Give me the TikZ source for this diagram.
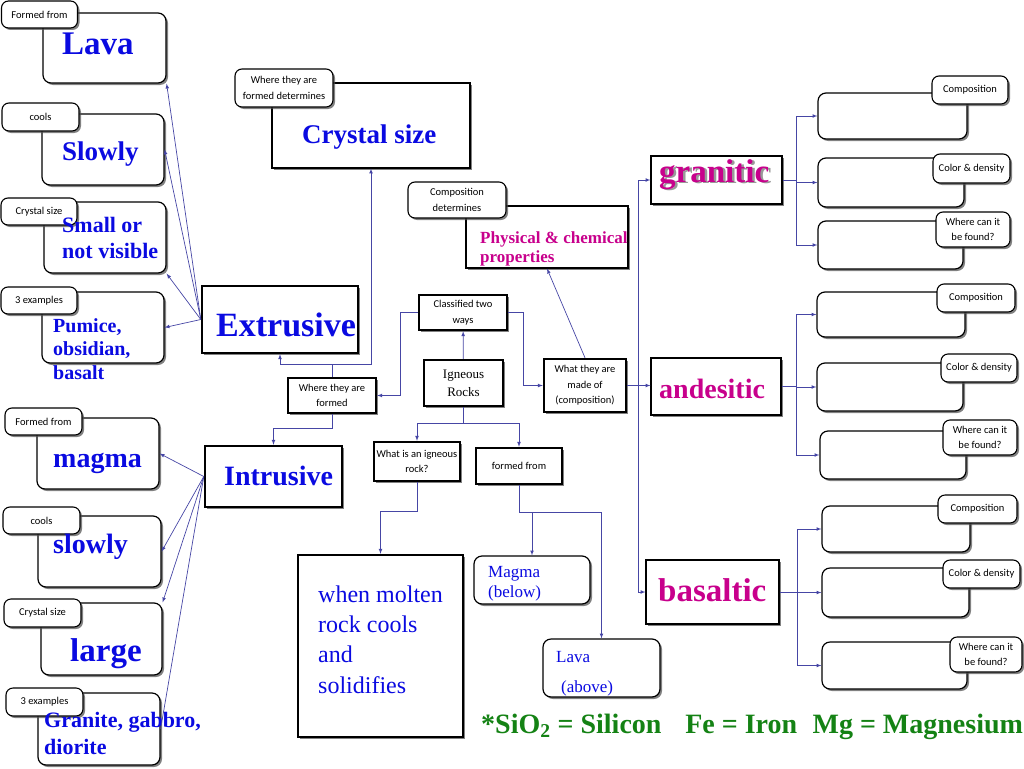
\documentclass[tikz,border=0pt]{standalone}
\usepackage{fontspec}
\setmainfont{Liberation Serif}
\newfontfamily\handfont{Carlito}
\usetikzlibrary{shadows}
\definecolor{conceptblue}{RGB}{10,10,225}
\definecolor{rockpink}{RGB}{200,0,140}
\definecolor{linkblue}{RGB}{70,70,165}
\definecolor{notegreen}{RGB}{20,130,20}

\begin{document}
\begin{tikzpicture}[x=1pt,y=-1pt,>=latex,
  boxshadow/.style={drop shadow={shadow xshift=2pt,shadow yshift=-2pt,opacity=0.7,fill=black!70}},
  hand/.style={font=\handfont\fontsize{10.5}{15.5}\selectfont},
  tagbox/.style={draw,line width=1.1pt,rounded corners=7pt,fill=white,inner sep=0pt,align=center,hand,boxshadow},
  roundbox/.style={draw,line width=1.2pt,rounded corners=8pt,fill=white,inner sep=0pt,boxshadow},
  plainbox/.style={draw,line width=1.1pt,fill=white,inner sep=0pt,boxshadow},
  keybox/.style={draw,line width=2.4pt,fill=white,inner sep=0pt,align=center,hand,boxshadow},
  bigtext/.style={anchor=base west,inner sep=0pt,align=left,text=conceptblue,font=\bfseries\fontsize{#1}{#1}\selectfont},
  rocktext/.style={anchor=base west,inner sep=0pt,text=rockpink,font=\bfseries\fontsize{#1}{#1}\selectfont},
  linkline/.style={draw=linkblue,line width=0.7pt},
  link/.style={linkline,->}]
\useasboundingbox (0,0) rectangle (1024,768);

\node[roundbox,minimum width=123,minimum height=70] (lavabox) at (104.5,48) {};
\node[tagbox,minimum width=76,minimum height=27] (lavatag) at (39.5,14.5) {Formed from};
\node[bigtext=33] (lavatext) at (62,55) {Lava};

\node[roundbox,minimum width=122,minimum height=71] (slowlybox) at (103,149.5) {};
\node[tagbox,minimum width=77,minimum height=28] (coolstag) at (40.5,117) {cools};
\node[bigtext=27] (slowlytext) at (62,160) {Slowly};

\node[roundbox,minimum width=122,minimum height=71] (smallbox) at (105,237.5) {};
\node[tagbox,minimum width=76,minimum height=27] (sizetag) at (39,211.5) {Crystal size};
\node[bigtext=22,font=\bfseries\fontsize{22}{26}\selectfont] (smalltext) at (62,258) {Small or\\not visible};

\node[roundbox,minimum width=122,minimum height=71] (pumicebox) at (103,327.5) {};
\node[tagbox,minimum width=76,minimum height=27] (examplestag) at (39,300.5) {3 examples};
\node[bigtext=20,font=\bfseries\fontsize{20}{23.5}\selectfont] (pumicetext) at (53,379) {Pumice,\\obsidian,\\basalt};

\node[keybox,minimum width=156,minimum height=67] (extrusive) at (280,319.5) {};
\node[bigtext=34] (extrusivetext) at (216,336) {Extrusive};

\node[roundbox,minimum width=122,minimum height=71] (magmabox) at (98,453.5) {};
\node[tagbox,minimum width=77,minimum height=27] (magmatag) at (43.5,421.5) {Formed from};
\node[bigtext=28] (magmatext) at (53,467) {magma};

\node[roundbox,minimum width=123,minimum height=71] (slowlybox2) at (99.5,551.5) {};
\node[tagbox,minimum width=77,minimum height=27] (coolstag2) at (41.5,520.5) {cools};
\node[bigtext=28] (slowlytext2) at (53,553) {slowly};

\node[roundbox,minimum width=121,minimum height=72] (largebox) at (101.5,639) {};
\node[tagbox,minimum width=77,minimum height=28] (sizetag2) at (42.5,613) {Crystal size};
\node[bigtext=33] (largetext) at (70,661) {large};

\node[roundbox,minimum width=122,minimum height=72] (granitebox) at (99,729) {};
\node[tagbox,minimum width=77,minimum height=28] (examplestag2) at (44.5,702) {3 examples};
\node[bigtext=22,font=\bfseries\fontsize{22}{27}\selectfont] (granitetext) at (44,754) {Granite, gabbro,\\diorite};

\node[keybox,minimum width=137,minimum height=61] (intrusive) at (273.5,476.5) {};
\node[bigtext=28] (intrusivetext) at (224,485) {Intrusive};

\node[plainbox,minimum width=198,minimum height=85] (crystalbox) at (371,125.5) {};
\node[tagbox,minimum width=98,minimum height=38] (crystaltag) at (284,88) {Where they are\\formed determines};
\node[bigtext=27] (crystaltext) at (302,143) {Crystal size};

\node[keybox,minimum width=88,minimum height=35] (whereformed) at (332,395.5) {Where they are\\formed};
\node[keybox,minimum width=88,minimum height=35] (classified) at (463,312.5) {Classified two\\ways};
\node[keybox,minimum width=79,minimum height=46,font=\fontsize{13}{18}\selectfont] (igneous) at (463.5,383) {Igneous\\Rocks};
\node[keybox,minimum width=82,minimum height=53] (whatmade) at (585,385.5) {What they are\\made of\\(composition)};
\node[keybox,minimum width=86,minimum height=39] (whatis) at (417,461.5) {What is an igneous\\rock?};
\node[keybox,minimum width=86,minimum height=36] (formedfrom) at (519,466) {formed from};

\node[keybox,minimum width=165,minimum height=182] (molten) at (380.5,646) {};
\node[bigtext=24,font=\fontsize{24}{30.3}\selectfont] (moltentext) at (318,693) {when molten\\rock cools\\and\\solidifies};

\node[roundbox,minimum width=116,minimum height=48] (magmabelow) at (532,580) {};
\node[bigtext=17,font=\fontsize{17}{20}\selectfont] (magmabelowtext) at (488,597) {Magma\\(below)};
\node[roundbox,minimum width=117,minimum height=58] (lavaabove) at (601.5,668) {};
\node[bigtext=17,font=\fontsize{17}{17}\selectfont] (lavaabovetext) at (556,662) {Lava};
\node[bigtext=17,font=\fontsize{17}{17}\selectfont] (lavaabovetext2) at (561,692) {(above)};

\node[plainbox,minimum width=162,minimum height=62] (physical) at (547,237) {};
\node[tagbox,minimum width=98,minimum height=36] (physicaltag) at (457,200) {Composition\\determines};
\node[rocktext=17,align=left,font=\bfseries\fontsize{17}{19}\selectfont] (physicaltext) at (480,262) {Physical \& chemical\\properties};

\node[plainbox,minimum width=131,minimum height=48] (granitic) at (716.5,180) {};
\node[rocktext=33] (granitictext) at (659,182) {\makebox[0pt][l]{\hspace{2.5pt}\raisebox{-1.5pt}{\textcolor{black!40}{granitic}}}granitic};
\node[plainbox,minimum width=130,minimum height=57] (andesitic) at (716,386.5) {};
\node[rocktext=28] (andesitictext) at (659,398) {andesitic};
\node[plainbox,minimum width=133,minimum height=64] (basaltic) at (712.5,592) {};
\node[rocktext=33] (basaltictext) at (658,601) {basaltic};

\node[roundbox,minimum width=149,minimum height=46] (gbox1) at (892.5,116) {};
\node[tagbox,minimum width=76,minimum height=28] (gtag1) at (970,90) {Composition};
\node[roundbox,minimum width=146,minimum height=49] (gbox2) at (891,182.5) {};
\node[tagbox,minimum width=77,minimum height=29] (gtag2) at (971.5,168.5) {Color \& density};
\node[roundbox,minimum width=145,minimum height=48] (gbox3) at (890.5,245) {};
\node[tagbox,minimum width=74,minimum height=35] (gtag3) at (973,229.5) {Where can it\\be found?};

\node[roundbox,minimum width=148,minimum height=45] (abox1) at (891,314.5) {};
\node[tagbox,minimum width=78,minimum height=28] (atag1) at (976,298) {Composition};
\node[roundbox,minimum width=146,minimum height=48] (abox2) at (890,387) {};
\node[tagbox,minimum width=76,minimum height=28] (atag2) at (979,368) {Color \& density};
\node[roundbox,minimum width=146,minimum height=48] (abox3) at (893,455) {};
\node[tagbox,minimum width=74,minimum height=35] (atag3) at (980,437.5) {Where can it\\be found?};

\node[roundbox,minimum width=148,minimum height=46] (bbox1) at (896,529) {};
\node[tagbox,minimum width=79,minimum height=28] (btag1) at (977.5,509) {Composition};
\node[roundbox,minimum width=147,minimum height=49] (bbox2) at (895.5,592.5) {};
\node[tagbox,minimum width=77,minimum height=28] (btag2) at (981.5,574) {Color \& density};
\node[roundbox,minimum width=145,minimum height=47] (bbox3) at (894.5,665.5) {};
\node[tagbox,minimum width=72,minimum height=35] (btag3) at (986,654.5) {Where can it\\be found?};

\node[anchor=base west,inner sep=0pt,text=notegreen,font=\bfseries\fontsize{28}{28}\selectfont] (elementnote) at (481,733) {*SiO\textsubscript{2} = Silicon\hspace{0.6em} Fe = Iron\hspace{0.3em} Mg = Magnesium};

\draw[link] (extrusive.west) -- (lavabox.south east);
\draw[link] (extrusive.west) -- (slowlybox.east);
\draw[link] (extrusive.west) -- (smallbox.south east);
\draw[link] (extrusive.west) -- (pumicebox.east);

\draw[link] (intrusive.west) -- (magmabox.east);
\draw[link] (intrusive.west) -- (slowlybox2.east);
\draw[link] (intrusive.west) -- (largebox.north east);
\draw[linkline] (intrusive.west) -- (granitebox.east);

\draw[link] (igneous) -- (classified);
\draw[link] (classified.west) -- ++(-17,0) |- (whereformed.east);
\draw[link] (classified.east) -- ++(15,0) |- (whatmade.west);
\draw[linkline] (whereformed.north) -- ++(0,-12) coordinate (wf);
\draw[link] (wf) -| (extrusive.south);
\draw[link] (wf) -| (crystalbox.south);
\draw[link] (whereformed.south) -- ++(0,14) -| (intrusive.north);

\draw[linkline] (igneous.south) -- ++(0,16) coordinate (ig);
\draw[link] (ig) -| (whatis.north);
\draw[link] (ig) -| (formedfrom.north);
\draw[link] (whatis.south) -- ++(0,29) -| (molten.north);
\draw[linkline] (formedfrom.south) -- ++(0,27) coordinate (ff);
\draw[link] (ff) -| (magmabelow.north);
\draw[link] (ff) -| (lavaabove.north);

\draw[link] (whatmade.north) -- (physical.south);
\draw[link] (whatmade.east) -- (whatmade.east -| andesitic.west);
\draw[linkline] (whatmade.east) -- ++(11,0) coordinate (wm);
\draw[link] (wm) |- (granitic.west);
\draw[link] (wm) |- (basaltic.west);

\draw[linkline] (granitic.east) -- ++(14,0) coordinate (gr);
\draw[link] (gr) |- (gbox1.west);
\draw[link] (gr) |- (gbox2.west);
\draw[link] (gr) |- (gbox3.west);
\draw[linkline] (andesitic.east) -- ++(15,0) coordinate (an);
\draw[link] (an) |- (abox1.west);
\draw[link] (an) |- (abox2.west);
\draw[link] (an) |- (abox3.west);
\draw[linkline] (basaltic.east) -- ++(18,0) coordinate (ba);
\draw[link] (ba) |- (bbox1.west);
\draw[link] (ba) |- (bbox2.west);
\draw[link] (ba) |- (bbox3.west);
\end{tikzpicture}
\end{document}
